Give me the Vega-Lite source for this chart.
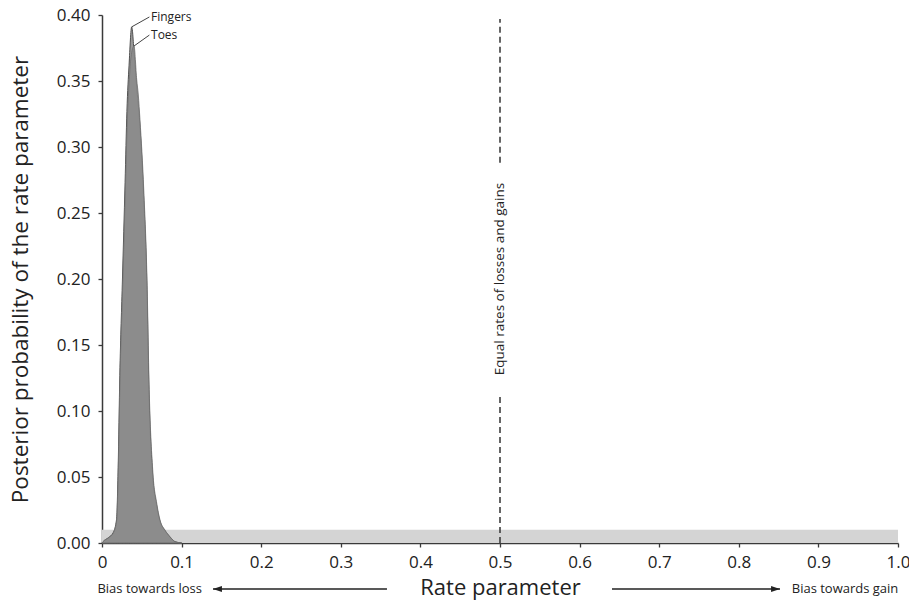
{
  "$schema": "https://vega.github.io/schema/vega-lite/v6.json",
  "width": 796,
  "height": 528,
  "autosize": {"type": "none"},
  "padding": {"left": 102, "top": 15, "right": 11, "bottom": 59},
  "background": "white",
  "config": {
    "font": "Open Sans",
    "view": {"stroke": null},
    "axis": {
      "grid": false,
      "domainColor": "#3a3a3a",
      "domainWidth": 1.5,
      "tickColor": "#3a3a3a",
      "tickWidth": 1.3,
      "tickSize": 4,
      "labelColor": "#222222",
      "titleColor": "#222222",
      "labelFontSize": 17,
      "titleFontWeight": "normal",
      "labelOverlap": false
    }
  },
  "datasets": {
    "prior": [{"rate_start": 0, "rate_end": 1, "prob": 0.01}],
    "posterior": [
      {"series": "Fingers", "rate": 0, "prob": 0},
      {"series": "Fingers", "rate": 0.0013, "prob": 0.001},
      {"series": "Fingers", "rate": 0.0079, "prob": 0.004},
      {"series": "Fingers", "rate": 0.0142, "prob": 0.008},
      {"series": "Fingers", "rate": 0.0183, "prob": 0.018},
      {"series": "Fingers", "rate": 0.0203, "prob": 0.057},
      {"series": "Fingers", "rate": 0.0224, "prob": 0.127},
      {"series": "Fingers", "rate": 0.0257, "prob": 0.2},
      {"series": "Fingers", "rate": 0.029, "prob": 0.273},
      {"series": "Fingers", "rate": 0.0313, "prob": 0.327},
      {"series": "Fingers", "rate": 0.034, "prob": 0.362},
      {"series": "Fingers", "rate": 0.0373, "prob": 0.391},
      {"series": "Fingers", "rate": 0.0405, "prob": 0.37},
      {"series": "Fingers", "rate": 0.0434, "prob": 0.347},
      {"series": "Fingers", "rate": 0.0474, "prob": 0.318},
      {"series": "Fingers", "rate": 0.0522, "prob": 0.264},
      {"series": "Fingers", "rate": 0.0565, "prob": 0.192},
      {"series": "Fingers", "rate": 0.0588, "prob": 0.12},
      {"series": "Fingers", "rate": 0.0635, "prob": 0.053},
      {"series": "Fingers", "rate": 0.0685, "prob": 0.029},
      {"series": "Fingers", "rate": 0.0727, "prob": 0.0168},
      {"series": "Fingers", "rate": 0.079, "prob": 0.0095},
      {"series": "Fingers", "rate": 0.0853, "prob": 0.0046},
      {"series": "Fingers", "rate": 0.0917, "prob": 0.001},
      {"series": "Fingers", "rate": 0.1, "prob": 0},
      {"series": "Toes", "rate": 0, "prob": 0},
      {"series": "Toes", "rate": 0.0013, "prob": 0.001},
      {"series": "Toes", "rate": 0.0079, "prob": 0.0038},
      {"series": "Toes", "rate": 0.0142, "prob": 0.0076},
      {"series": "Toes", "rate": 0.0185, "prob": 0.0174},
      {"series": "Toes", "rate": 0.0205, "prob": 0.0553},
      {"series": "Toes", "rate": 0.0226, "prob": 0.1235},
      {"series": "Toes", "rate": 0.026, "prob": 0.195},
      {"series": "Toes", "rate": 0.0293, "prob": 0.267},
      {"series": "Toes", "rate": 0.0318, "prob": 0.3206},
      {"series": "Toes", "rate": 0.0343, "prob": 0.351},
      {"series": "Toes", "rate": 0.0364, "prob": 0.368},
      {"series": "Toes", "rate": 0.0402, "prob": 0.3765},
      {"series": "Toes", "rate": 0.0436, "prob": 0.351},
      {"series": "Toes", "rate": 0.0456, "prob": 0.3394},
      {"series": "Toes", "rate": 0.0477, "prob": 0.3206},
      {"series": "Toes", "rate": 0.0525, "prob": 0.267},
      {"series": "Toes", "rate": 0.0567, "prob": 0.195},
      {"series": "Toes", "rate": 0.059, "prob": 0.1235},
      {"series": "Toes", "rate": 0.0637, "prob": 0.0553},
      {"series": "Toes", "rate": 0.0687, "prob": 0.0303},
      {"series": "Toes", "rate": 0.0729, "prob": 0.0174},
      {"series": "Toes", "rate": 0.0791, "prob": 0.0098},
      {"series": "Toes", "rate": 0.0854, "prob": 0.0048},
      {"series": "Toes", "rate": 0.0917, "prob": 0.001},
      {"series": "Toes", "rate": 0.1, "prob": 0}
    ],
    "reference": [
      {"rate": 0.5, "prob_from": 0, "prob_to": 0.112},
      {"rate": 0.5, "prob_from": 0.288, "prob_to": 0.397}
    ],
    "reference_label": [{"rate": 0.5, "prob": 0.2, "label": "Equal rates of losses and gains"}],
    "callouts": [
      {"label": "Fingers", "peak_rate": 0.0373, "peak_prob": 0.391, "line_rate": 0.0595, "label_rate": 0.0616, "label_prob": 0.3985},
      {"label": "Toes", "peak_rate": 0.0402, "peak_prob": 0.3765, "line_rate": 0.0595, "label_rate": 0.0616, "label_prob": 0.3848}
    ],
    "arrows": [
      {"direction": "loss", "tail": 0.358, "tip": 0.1394, "text_rate": 0.1256, "label": "Bias towards loss"},
      {"direction": "gain", "tail": 0.6407, "tip": 0.8518, "text_rate": 0.8665, "label": "Bias towards gain"}
    ]
  },
  "layer": [
    {
      "data": {"name": "prior"},
      "mark": {"type": "rect", "color": "#d4d4d4"},
      "encoding": {
        "x": {
          "field": "rate_start",
          "type": "quantitative",
          "scale": {"domain": [0, 1], "nice": false},
          "axis": {
            "values": [0, 0.05, 0.1, 0.15, 0.2, 0.25, 0.3, 0.35, 0.4, 0.45, 0.5, 0.55, 0.6, 0.65, 0.7, 0.75, 0.8, 0.85, 0.9, 0.95, 1],
            "labelExpr": "datum.value == 0 ? '0' : (round(datum.value * 100) % 10 == 0 ? format(datum.value, '.1f') : '')",
            "labelFlush": false,
            "labelPadding": 7,
            "title": "Rate parameter",
            "titleFontSize": 22,
            "titlePadding": 7
          }
        },
        "x2": {"field": "rate_end"},
        "y": {
          "field": "prob",
          "type": "quantitative",
          "scale": {"domain": [0, 0.4], "nice": false},
          "axis": {
            "values": [0, 0.05, 0.1, 0.15, 0.2, 0.25, 0.3, 0.35, 0.4],
            "format": ".2f",
            "labelPadding": 8,
            "title": "Posterior probability of the rate parameter",
            "titleFontSize": 22.5,
            "titlePadding": 24
          }
        },
        "y2": {"datum": 0}
      }
    },
    {
      "data": {"name": "posterior"},
      "transform": [{"filter": "datum.series == 'Fingers'"}],
      "mark": {"type": "area", "interpolate": "monotone", "fill": "#9a9a9a", "stroke": "#505050", "strokeWidth": 1},
      "encoding": {
        "x": {"field": "rate", "type": "quantitative"},
        "y": {"field": "prob", "type": "quantitative"}
      }
    },
    {
      "data": {"name": "posterior"},
      "transform": [{"filter": "datum.series == 'Toes'"}],
      "mark": {"type": "area", "interpolate": "monotone", "fill": "#8a8a8a", "fillOpacity": 0.85, "stroke": "#707070", "strokeWidth": 0.8},
      "encoding": {
        "x": {"field": "rate", "type": "quantitative"},
        "y": {"field": "prob", "type": "quantitative"}
      }
    },
    {
      "data": {"name": "reference"},
      "mark": {"type": "rule", "color": "#333333", "strokeWidth": 1.5, "strokeDash": [6, 4]},
      "encoding": {
        "x": {"field": "rate", "type": "quantitative"},
        "y": {"field": "prob_from", "type": "quantitative"},
        "y2": {"field": "prob_to"}
      }
    },
    {
      "data": {"name": "reference_label"},
      "mark": {"type": "text", "angle": 270, "fontSize": 13.5, "color": "#222222", "align": "center", "baseline": "middle"},
      "encoding": {
        "x": {"field": "rate", "type": "quantitative"},
        "y": {"field": "prob", "type": "quantitative"},
        "text": {"field": "label"}
      }
    },
    {
      "data": {"name": "callouts"},
      "mark": {"type": "rule", "color": "#444444", "strokeWidth": 1},
      "encoding": {
        "x": {"field": "peak_rate", "type": "quantitative"},
        "y": {"field": "peak_prob", "type": "quantitative"},
        "x2": {"field": "line_rate"},
        "y2": {"field": "label_prob"}
      }
    },
    {
      "data": {"name": "callouts"},
      "mark": {"type": "text", "fontSize": 12, "color": "#222222", "align": "left", "baseline": "middle"},
      "encoding": {
        "x": {"field": "label_rate", "type": "quantitative"},
        "y": {"field": "label_prob", "type": "quantitative"},
        "text": {"field": "label"}
      }
    },
    {
      "data": {"name": "arrows"},
      "mark": {"type": "rule", "color": "#222222", "strokeWidth": 1.3, "yOffset": 46},
      "encoding": {
        "x": {"field": "tail", "type": "quantitative"},
        "x2": {"field": "tip"},
        "y": {"datum": 0, "type": "quantitative"}
      }
    },
    {
      "data": {"name": "arrows"},
      "mark": {"type": "point", "filled": true, "opacity": 1, "color": "#222222", "size": 100, "yOffset": 46},
      "encoding": {
        "x": {"field": "tip", "type": "quantitative"},
        "y": {"datum": 0, "type": "quantitative"},
        "shape": {
          "field": "direction",
          "type": "nominal",
          "scale": {"domain": ["loss", "gain"], "range": ["M0,0L1.8,-0.6L1.8,0.6Z", "M0,0L-1.8,-0.6L-1.8,0.6Z"]},
          "legend": null
        }
      }
    },
    {
      "data": {"name": "arrows"},
      "transform": [{"filter": "datum.direction == 'loss'"}],
      "mark": {"type": "text", "fontSize": 13, "color": "#222222", "align": "right", "baseline": "middle", "dy": 46},
      "encoding": {
        "x": {"field": "text_rate", "type": "quantitative"},
        "y": {"datum": 0, "type": "quantitative"},
        "text": {"field": "label"}
      }
    },
    {
      "data": {"name": "arrows"},
      "transform": [{"filter": "datum.direction == 'gain'"}],
      "mark": {"type": "text", "fontSize": 13, "color": "#222222", "align": "left", "baseline": "middle", "dy": 46},
      "encoding": {
        "x": {"field": "text_rate", "type": "quantitative"},
        "y": {"datum": 0, "type": "quantitative"},
        "text": {"field": "label"}
      }
    }
  ]
}
